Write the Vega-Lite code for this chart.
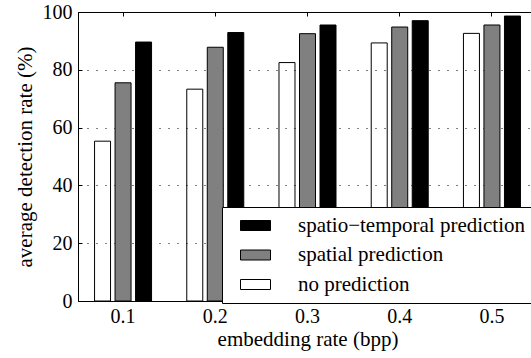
{
  "$schema": "https://vega.github.io/schema/vega-lite/v6.json",
  "autosize": {"type": "none"},
  "padding": {"left": 78, "top": 12, "right": 0, "bottom": 57},
  "width": 459,
  "height": 289,
  "background": "white",
  "config": {
    "font": "Liberation Serif",
    "view": {"stroke": "black", "strokeWidth": 1},
    "axis": {"labelFont": "Liberation Serif", "titleFont": "Liberation Serif", "labelFontSize": 20, "titleFontSize": 21, "titleFontWeight": "normal", "labelColor": "black", "titleColor": "black", "domainColor": "black", "tickColor": "black"}
  },
  "data": {"values": [
    {"rate": "0.1", "method": "no prediction", "value": 55.3},
    {"rate": "0.1", "method": "spatial prediction", "value": 75.5},
    {"rate": "0.1", "method": "spatio−temporal prediction", "value": 89.6},
    {"rate": "0.2", "method": "no prediction", "value": 73.3},
    {"rate": "0.2", "method": "spatial prediction", "value": 87.8},
    {"rate": "0.2", "method": "spatio−temporal prediction", "value": 92.9},
    {"rate": "0.3", "method": "no prediction", "value": 82.5},
    {"rate": "0.3", "method": "spatial prediction", "value": 92.5},
    {"rate": "0.3", "method": "spatio−temporal prediction", "value": 95.5},
    {"rate": "0.4", "method": "no prediction", "value": 89.3},
    {"rate": "0.4", "method": "spatial prediction", "value": 94.8},
    {"rate": "0.4", "method": "spatio−temporal prediction", "value": 97.0},
    {"rate": "0.5", "method": "no prediction", "value": 92.6},
    {"rate": "0.5", "method": "spatial prediction", "value": 95.5},
    {"rate": "0.5", "method": "spatio−temporal prediction", "value": 98.6}
  ]},
  "layer": [
    {
      "mark": {"type": "bar", "stroke": "black", "strokeWidth": 1},
      "encoding": {
        "x": {"field": "rate", "type": "nominal", "sort": ["0.1","0.2","0.3","0.4","0.5"],
          "scale": {"paddingInner": 0.333, "paddingOuter": 0.155},
          "axis": {"title": "embedding rate (bpp)", "labelAngle": 0, "tickSize": -4, "labelPadding": 9, "domain": true, "titleY": 44, "titleBaseline": "alphabetic", "titlePadding": 0}},
        "xOffset": {"field": "method", "type": "nominal", "sort": ["no prediction","spatial prediction","spatio−temporal prediction"],
          "scale": {"paddingInner": 0.22, "paddingOuter": 0.11}},
        "y": {"field": "value", "type": "quantitative",
          "scale": {"domain": [0, 100], "nice": false},
          "axis": {"title": "average detection rate (%)", "values": [0,20,40,60,80,100], "tickSize": -4, "labelPadding": 10, "grid": true, "gridColor": "black", "gridDash": [1, 8], "gridWidth": 1, "titleX": -47, "titleY": 144.5, "titleAngle": -90, "titleBaseline": "alphabetic", "titleAlign": "center"}},
        "fill": {"field": "method", "type": "nominal",
          "scale": {"domain": ["spatio−temporal prediction","spatial prediction","no prediction"], "range": ["black","#808080","rgba(255,255,255,0)"]},
          "legend": {"title": null, "orient": "none", "legendX": 144, "legendY": 195, "padding": 8, "rowPadding": 7.5, "fillColor": "white", "strokeColor": "black", "symbolType": "M-0.5,-0.5H2.5V0.5H-0.5Z", "symbolSize": 400, "symbolStrokeColor": "black", "symbolStrokeWidth": 1, "symbolOffset": 5, "labelOffset": 42, "labelFontSize": 21, "labelFont": "Liberation Serif", "labelColor": "black", "labelLimit": 400}}
      }
    },
    {
      "mark": {"type": "tick", "opacity": 0},
      "encoding": {
        "x": {"field": "rate", "type": "nominal", "sort": ["0.1","0.2","0.3","0.4","0.5"],
          "axis": {"orient": "top", "labels": false, "title": null, "tickSize": -4, "domain": true}}
      }
    }
  ],
  "resolve": {"axis": {"x": "independent"}}
}
